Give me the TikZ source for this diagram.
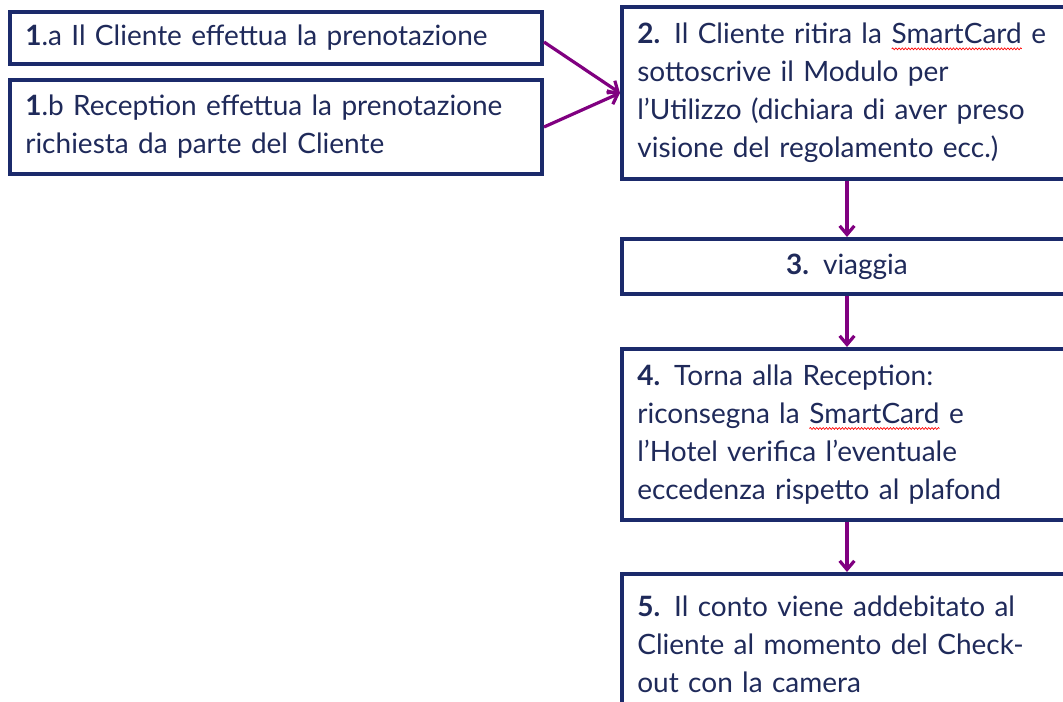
\documentclass[tikz,border=0pt]{standalone}
\usepackage{fontspec}
\setmainfont{Lato}
\usetikzlibrary{arrows.meta,decorations.pathmorphing}
\definecolor{navy}{HTML}{1B2A6B}
\definecolor{txtc}{HTML}{1F2A5A}
\definecolor{purp}{HTML}{800080}
\newcommand\redwave[1]{\tikz[baseline=(w.base)]{\node[draw=none,inner sep=0pt,outer sep=0pt,minimum width=0pt,minimum height=0pt,text width={},anchor=base,text=txtc,font=\fontsize{21}{28}\selectfont] (w) at (0,0) {#1};
  \draw[red,line width=0.5pt,decorate,decoration={snake,amplitude=0.7pt,segment length=2.4pt}] ([yshift=-3.8pt]w.base west) -- ([yshift=-3.8pt]w.base east);}}
\begin{document}
\begin{tikzpicture}[x=0.75pt,y=-0.75pt,
  box/.style={draw=navy,line width=3pt,rectangle,anchor=north west,
    inner xsep=11.5pt,inner ysep=0pt,text=txtc,align=left,
    font=\fontsize{21}{28.5}\selectfont},
  arr/.style={draw=purp,line width=2.4pt,-{Straight Barb[length=6.5pt,width=11pt]}}]
\clip (0,0) rectangle (1063,702);
\node[box,text width=376pt,minimum height=39pt] (a) at (8,10)
  {\textbf{1}.a Il Cliente effettua la prenotazione};
\node[box,text width=376pt,minimum height=70.5pt] (b) at (8,78)
  {\textbf{1}.b Reception effettua la prenotazione\\richiesta da parte del Cliente};
\node[box,text width=314.5pt,minimum height=129pt] (c) at (620,5)
  {\textbf{2.} Il Cliente ritira la \redwave{SmartCard} e\\sottoscrive il Modulo per\\l’Utilizzo (dichiara di aver preso\\visione del regolamento ecc.)};
\node[box,text width=314.5pt,minimum height=41.25pt,align=center] (d) at (620,237)
  {\textbf{3.} viaggia};
\node[box,text width=314.5pt,minimum height=128.25pt] (e) at (620,347)
  {\textbf{4.} Torna alla Reception:\\riconsegna la \redwave{SmartCard} e\\l’Hotel verifica l’eventuale\\eccedenza rispetto al plafond};
\node[box,text width=314.5pt,minimum height=105pt] (f) at (620,572)
  {\textbf{5.} Il conto viene addebitato al\\Cliente al momento del Check-\\out con la camera};
\draw[arr] ([yshift=-3]a.east) -- (c.west);
\draw[arr] (b.east) -- (c.west);
\draw[arr] (c.south) -- (d.north);
\draw[arr] (d.south) -- (e.north);
\draw[arr] (e.south) -- (f.north);
\end{tikzpicture}
\end{document}
